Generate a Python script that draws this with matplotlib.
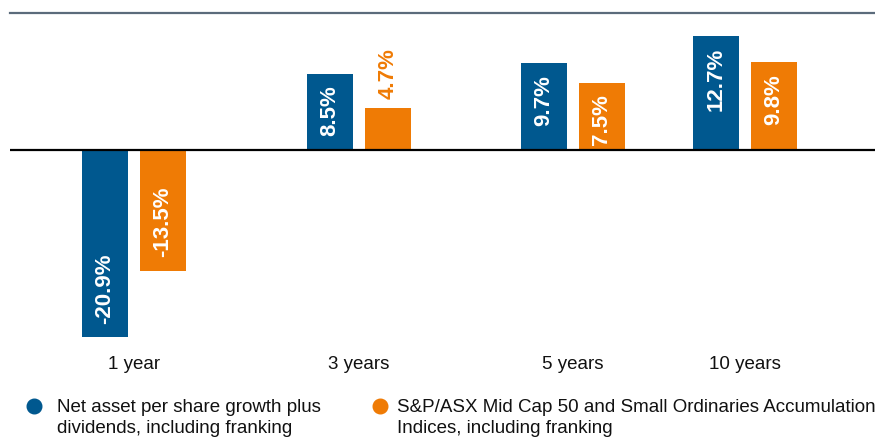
import matplotlib
matplotlib.use("Agg")
import matplotlib.pyplot as plt
from matplotlib.lines import Line2D

plt.rcParams['font.family'] = ['Liberation Sans', 'DejaVu Sans']

periods = ["1 year", "3 years", "5 years", "10 years"]
nav_growth = [-20.9, 8.5, 9.7, 12.7]
index_return = [-13.5, 4.7, 7.5, 9.8]
series_names = ["Net asset per share growth plus\ndividends, including franking",
                "S&P/ASX Mid Cap 50 and Small Ordinaries Accumulation\nIndices, including franking"]

blue = "#00588f"
orange = "#ef7b05"

W, H = 875, 438
fig = plt.figure(figsize=(W / 100, H / 100), dpi=100)

# axes placed in pixel terms: top line at 13.3px, zero at 150px, ~9px per %
px_per = 8.97
top_px = 13.3
ymax = (150 - top_px) / px_per
ymin = -22
bot_px = 150 - ymin * px_per
left_px = 9.5
ax = fig.add_axes([left_px / W, 1 - bot_px / H, (W - left_px) / W, (bot_px - top_px) / H])
ax.set_xlim(left_px, W)
ax.set_ylim(ymin, ymax)

group_x = [134, 359, 572.5, 745]
off = 29
bw = 46

xs_blue = [g - off for g in group_x]
xs_orange = [g + off for g in group_x]
ax.bar(xs_blue, nav_growth, width=bw, color=blue, zorder=2)
ax.bar(xs_orange, index_return, width=bw, color=orange, zorder=2)
ax.axhline(0, color="black", lw=1.6, zorder=3)


def label(x, v, col):
    txt = f"{v:.1f}%"
    if v < 0:
        ax.annotate(txt, (x, v), xytext=(0, 10), textcoords="offset points",
                    rotation=90, ha="center", va="bottom", color="white",
                    fontsize=16, fontweight="bold")
    elif v < 5:
        ax.annotate(txt, (x, v), xytext=(0, 6.5), textcoords="offset points",
                    rotation=90, ha="center", va="bottom", color=col,
                    fontsize=16, fontweight="bold")
    else:
        ax.annotate(txt, (x, v), xytext=(0, -8.5), textcoords="offset points",
                    rotation=90, ha="center", va="top", color="white",
                    fontsize=16, fontweight="bold")


for x, v in zip(xs_blue, nav_growth):
    label(x, v, blue)
for x, v in zip(xs_orange, index_return):
    label(x, v, orange)

for s in ["left", "right", "bottom"]:
    ax.spines[s].set_visible(False)
ax.spines["top"].set_color("#5b6b7b")
ax.spines["top"].set_linewidth(1.6)
ax.set_yticks([])
ax.set_xticks(group_x)
ax.set_xticklabels(periods, fontsize=13.5, color="#111111")
ax.tick_params(axis="x", length=0, pad=6)

# legend drawn by hand
leg_dot_x = [34, 380]
leg_txt_x = [57, 397]
for dx, tx, col, name in zip(leg_dot_x, leg_txt_x, [blue, orange], series_names):
    fig.add_artist(Line2D([dx / W], [1 - 406 / H], marker="o", markersize=10.5,
                          color=col, transform=fig.transFigure))
    fig.text(tx / W, 1 - 418 / H, name, fontsize=13.5, color="#111111",
             ha="left", va="center", linespacing=1.28)

fig.savefig("out.png", dpi=100)
